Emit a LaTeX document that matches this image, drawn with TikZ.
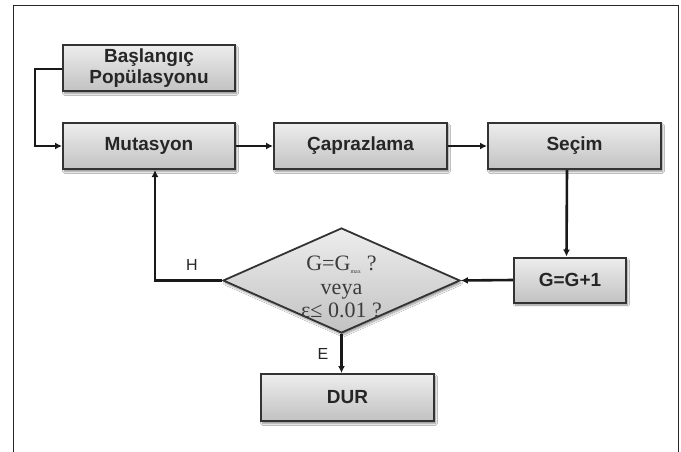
\documentclass[tikz,border=0pt]{standalone}
\usepackage{fontspec}
\setmainfont{Liberation Serif}
\newfontfamily\boxfont{Liberation Sans}
\usetikzlibrary{arrows.meta,shapes.geometric,shadows.blur}
\definecolor{boxline}{HTML}{333333}
\definecolor{boxtext}{HTML}{262626}
\definecolor{shadetop}{HTML}{EDEDED}
\definecolor{shadebot}{HTML}{C2C2C2}
\definecolor{dectext}{HTML}{3C3C3C}
\tikzset{
  procbox/.style={rectangle, draw=boxline, line width=2pt, top color=shadetop, bottom color=shadebot,
    minimum width=172pt, minimum height=46pt, inner sep=0pt, align=center, text=boxtext,
    font=\boxfont\bfseries\fontsize{19}{21}\selectfont,
    blur shadow={shadow xshift=1.5pt, shadow yshift=-2.5pt, shadow blur steps=6, shadow opacity=45}},
  decbox/.style={diamond, draw=boxline, line width=1.8pt, top color=shadetop, bottom color=shadebot,
    minimum width=237pt, minimum height=105pt, inner sep=0pt,
    blur shadow={shadow xshift=1.5pt, shadow yshift=-2.5pt, shadow blur steps=6, shadow opacity=40}},
  dectxt/.style={align=center, text=dectext, font=\fontsize{22}{23.5}\selectfont, inner sep=0pt},
  conn/.style={line width=2.6pt, draw=black!90, -{Latex[length=7pt,width=7pt]}},
  lbl/.style={font=\boxfont\fontsize{16}{18}\selectfont, text=boxtext, inner sep=0pt},
  frame/.style={line width=1.8pt, draw=black!85}
}
\begin{document}
\begin{tikzpicture}[x=1pt, y=-1pt]
\useasboundingbox (0,0) rectangle (681,452);
\fill[white] (0,0) rectangle (681,452);
\draw[frame] (13.5,470) -- (13.5,5.5) -- (678.5,5.5) -- (678.5,470);

\node[procbox] (start) at (149,68) {Başlangıç\\Popülasyonu};
\node[procbox] (mut) at (149,146) {Mutasyon};
\node[procbox, minimum width=173pt] (cap) at (360.5,146) {Çaprazlama};
\node[procbox, minimum width=173pt] (sec) at (574.5,146) {Seçim};
\node[procbox, minimum width=112pt, minimum height=45pt] (inc) at (570,280) {G=G+1};
\node[decbox] (dec) at (341.5,280.5) {};
\node[dectxt] (dect) at (341.5,287) {G=G\textsubscript{\fontsize{6}{6}\selectfont max} ?\\veya\\ε≤ 0.01 ?};
\node[procbox, minimum width=173pt, minimum height=47pt] (dur) at (347.5,397.5) {DUR};

\draw[conn] ([yshift=-1pt]start.west) -- ++(-27,0) |- (mut.west);
\draw[conn] (mut.east) -- (cap.west);
\draw[conn] (cap.east) -- (sec.west);
\draw[conn] ([xshift=-7.5pt]sec.south) -- ([xshift=-3.5pt]inc.north);
\draw[conn] (inc.west) -- (dec.east);
\draw[conn] (dec.west) -| ([xshift=6pt]mut.south);
\draw[conn] (dec.south) -- (dec.south |- dur.north);

\node[lbl] (hl) at (192,265) {H};
\node[lbl] (el) at (323,354) {E};
\end{tikzpicture}
\end{document}
